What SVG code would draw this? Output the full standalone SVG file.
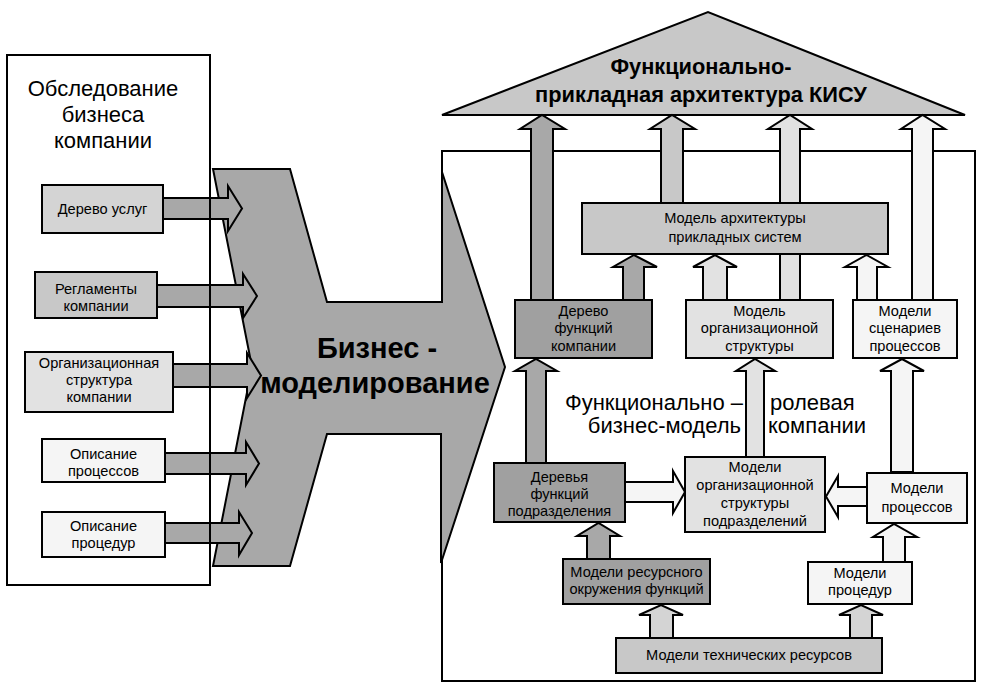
<svg xmlns="http://www.w3.org/2000/svg" width="982" height="685" viewBox="0 0 982 685">
<style>
text{font-family:"Liberation Sans",Arial,sans-serif;fill:#000;text-anchor:middle}
.t{font-size:14.6px}
.big{font-size:22px}
.lab{font-size:22px}
.roof{font-size:21.8px;font-weight:bold}
.bm{font-size:29px;font-weight:bold}
.s{stroke:#000;stroke-width:2;stroke-linejoin:miter}
.g0{fill:#a0a0a0}.g1{fill:#a8a8a8}.g2{fill:#c8c8c8}.g3{fill:#d4d4d4}.g4{fill:#e2e2e2}.g5{fill:#f5f5f5}
</style>
<rect width="982" height="685" fill="#fff"/>
<g id="frame-right"><rect class="s" x="442" y="151" width="533" height="530" fill="#fff"/></g>
<g id="roof">
<polygon class="s g2" points="442,115 708,12 965,115"/>
<text class="roof" x="701" y="74">Функционально-</text>
<text class="roof" x="701" y="102">прикладная архитектура КИСУ</text>
</g>
<g id="business-modeling">
<polygon class="s g1" points="213,169 290,169 327,302 442,302 442,172 505,367 441,563 441,434 327,434 290,566 213,566 252,367"/>
<text class="bm" x="377" y="358">Бизнес -</text>
<text class="bm" x="375" y="393">моделирование</text>
</g>
<g id="connectors">
<polygon class="s g1" points="163,198 228,198 228,186 242,208.5 228,231 228,219 163,219"/>
<polygon class="s g1" points="157,285 243,285 243,274 257,296 243,318 243,307 157,307"/>
<polygon class="s g1" points="173,364 247,364 247,353 261,375.5 247,398 247,387 173,387"/>
<polygon class="s g1" points="165,453 246,453 246,442 259,463.5 246,485 246,474 165,474"/>
<polygon class="s g1" points="165,523 239,523 239,512 252,533 239,555 239,543 165,543"/>
<polygon class="s g1" points="531,300 531,129 520,129 542,115 565,129 553,129 553,300"/>
<polygon class="s g2" points="661,203 661,129 650,129 672,115 695,129 683,129 683,203"/>
<polygon class="s g4" points="780,300 780,129 768,129 790,115 812,129 800,129 800,300"/>
<polygon class="s g5" points="912,300 912,129 901,129 922.5,115 945,129 933,129 933,300"/>
<polygon class="s g1" points="623,300 623,267 613,267 634,255 657,267 644,267 644,300"/>
<polygon class="s g4" points="703,300 703,267 693,267 715,255 737,267 727,267 727,300"/>
<polygon class="s g5" points="857,300 857,267 845,267 866.5,255 888,267 877,267 877,300"/>
<polygon class="s g1" points="526,463 526,371 515,371 536,359 557,371 546,371 546,463"/>
<polygon class="s g4" points="746,457 746,371 736,371 755,359 775,371 764,371 764,457"/>
<polygon class="s g5" points="891,472 891,371 880,371 902,359 924,371 913,371 913,472"/>
<polygon class="s g5" points="625,482 673,482 673,471 685,492 673,513 673,502 625,502"/>
<polygon class="s g5" points="867,487 838,487 838,476 826,496.5 838,517 838,506 867,506"/>
<polygon class="s g1" points="587,559 587,536 577,536 598.5,523 620,536 610,536 610,559"/>
<polygon class="s g5" points="883,562 883,537 873,537 894,524 917,537 905,537 905,562"/>
<polygon class="s g3" points="650,638 650,615 639,615 661,605 683,615 673,615 673,638"/>
<polygon class="s g3" points="850,638 850,615 839,615 861,605 883,615 872,615 872,638"/>
</g>
<g id="frame-left">
<rect class="s" x="7" y="55" width="203" height="530" fill="none"/>
<text class="big" x="103" y="96">Обследование</text>
<text class="big" x="103" y="122">бизнеса</text>
<text class="big" x="103" y="148">компании</text>
</g>
<g id="services-tree"><rect class="s g3" x="42" y="185" width="121" height="48"/><text class="t" x="102.5" y="214">Дерево услуг</text></g>
<g id="regulations"><rect class="s g2" x="35" y="272" width="122" height="46"/><text class="t" x="96" y="294">Регламенты</text><text class="t" x="96" y="311">компании</text></g>
<g id="org-structure"><rect class="s g4" x="25" y="352" width="148" height="60"/><text class="t" x="99" y="368">Организационная</text><text class="t" x="99" y="385">структура</text><text class="t" x="99" y="402">компании</text></g>
<g id="process-desc"><rect class="s g5" x="42" y="439" width="123" height="43"/><text class="t" x="103.5" y="459">Описание</text><text class="t" x="103.5" y="476">процессов</text></g>
<g id="procedure-desc"><rect class="s g5" x="42" y="512" width="123" height="45"/><text class="t" x="103.5" y="531">Описание</text><text class="t" x="103.5" y="548">процедур</text></g>
<g id="app-arch"><rect class="s g2" x="582" y="203" width="306" height="51"/><text class="t" x="735" y="223">Модель архитектуры</text><text class="t" x="735" y="242">прикладных систем</text></g>
<g id="func-tree-company"><rect class="s g0" x="515" y="300" width="137" height="58"/><text class="t" x="583.5" y="316">Дерево</text><text class="t" x="583.5" y="333">функций</text><text class="t" x="583.5" y="351">компании</text></g>
<g id="org-model"><rect class="s g4" x="686" y="300" width="147" height="58"/><text class="t" x="759.5" y="316">Модель</text><text class="t" x="759.5" y="333">организационной</text><text class="t" x="759.5" y="351">структуры</text></g>
<g id="scenario-models"><rect class="s g5" x="853" y="300" width="104" height="58"/><text class="t" x="905" y="316">Модели</text><text class="t" x="905" y="333">сценариев</text><text class="t" x="905" y="351">процессов</text></g>
<g id="business-model-label">
<text class="lab" style="text-anchor:end" x="743" y="410">Функционально –</text>
<text class="lab" style="text-anchor:end" x="741" y="433">бизнес-модель</text>
<text class="lab" style="text-anchor:start" x="770" y="410">ролевая</text>
<text class="lab" style="text-anchor:start" x="768" y="433">компании</text>
</g>
<g id="dept-func-trees"><rect class="s g0" x="494" y="463" width="131" height="59"/><text class="t" x="559.5" y="482">Деревья</text><text class="t" x="559.5" y="499">функций</text><text class="t" x="559.5" y="516">подразделения</text></g>
<g id="dept-org-models"><rect class="s g4" x="685" y="457" width="140" height="75"/><text class="t" x="755" y="472">Модели</text><text class="t" x="755" y="490">организационной</text><text class="t" x="755" y="508">структуры</text><text class="t" x="755" y="526">подразделений</text></g>
<g id="process-models"><rect class="s g5" x="867" y="473" width="100" height="50"/><text class="t" x="917" y="493">Модели</text><text class="t" x="917" y="512">процессов</text></g>
<g id="resource-env"><rect class="s g0" x="563" y="559" width="147" height="45"/><text class="t" x="636.5" y="577">Модели ресурсного</text><text class="t" x="636.5" y="594">окружения функций</text></g>
<g id="procedure-models"><rect class="s g5" x="808" y="562" width="104" height="42"/><text class="t" x="860" y="578">Модели</text><text class="t" x="860" y="595">процедур</text></g>
<g id="tech-resources"><rect class="s g2" x="616" y="638" width="266" height="35"/><text class="t" x="749" y="660">Модели технических ресурсов</text></g>
</svg>
